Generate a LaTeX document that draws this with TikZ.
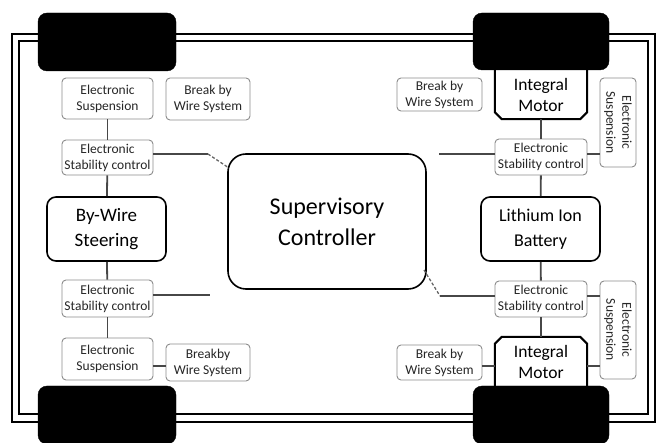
\documentclass[tikz,border=0pt]{standalone}
\usepackage{fontspec}
\setmainfont{Carlito}
\usetikzlibrary{calc}
\begin{document}
\begin{tikzpicture}[x=1pt,y=-1pt,
  small/.style={draw=black!45, rounded corners=4pt, line width=0.9pt, align=center,
    font=\fontsize{13.5}{16}\selectfont, inner sep=0pt, fill=white, text=black!85},
  big/.style={draw=black, line width=1.6pt, align=center, inner sep=0pt, fill=white},
  wheel/.style={fill=black, draw=black, rounded corners=9pt, inner sep=0pt},
  link/.style={draw=black!72, line width=1.8pt},
  dlink/.style={draw=black!60, line width=1.3pt, dash pattern=on 3pt off 2pt}]
\useasboundingbox (0,0) rectangle (659,443);
% frame
\draw[line width=2.6pt] (12,34) rectangle (655,422);
\draw[line width=1.8pt] (19,41) rectangle (648,414);
% supervisory
\node[big, rounded corners=18pt, minimum width=198pt, minimum height=135pt,
  font=\fontsize{24}{31}\selectfont] (sup) at (327,221.5) {Supervisory\\Controller};
% left column
\node[small, minimum width=91pt, minimum height=41pt] (suspTL) at (107.5,98.5) {Electronic\\Suspension};
\node[small, minimum width=84pt, minimum height=42pt] (brakeTL) at (208,99) {Break by\\Wire System};
\node[small, minimum width=91pt, minimum height=35pt] (escTL) at (107.5,157.5) {Electronic\\Stability control};
\node[big, rounded corners=9pt, minimum width=119pt, minimum height=64pt,
  font=\fontsize{19}{25}\selectfont] (steer) at (106.5,229) {By-Wire\\Steering};
\node[small, minimum width=91pt, minimum height=37pt] (escBL) at (107.5,298.5) {Electronic\\Stability control};
\node[small, minimum width=91pt, minimum height=42pt] (suspBL) at (107.5,359) {Electronic\\Suspension};
\node[small, minimum width=84pt, minimum height=37pt] (brakeBL) at (208,362.5) {Breakby\\Wire System};
% right column
\node[small, minimum width=85pt, minimum height=33pt] (brakeTR) at (439.5,94.5) {Break by\\Wire System};
\node[minimum width=92pt, minimum height=49pt, inner sep=0pt, align=center,
  font=\fontsize{17.5}{21}\selectfont] (motorTR) at (541,94.5) {Integral\\Motor};
\node[small, rotate=-90, minimum width=89pt, minimum height=36pt] (suspTR) at (618,122.5) {Electronic\\Suspension};
\node[small, minimum width=92pt, minimum height=36pt] (escTR) at (541,157) {Electronic\\Stability control};
\node[big, rounded corners=9pt, minimum width=119pt, minimum height=64pt,
  font=\fontsize{18}{25}\selectfont] (batt) at (540.5,229) {Lithium Ion\\Battery};
\node[small, minimum width=92pt, minimum height=36pt] (escBR) at (541,299) {Electronic\\Stability control};
\node[small, rotate=-90, minimum width=98pt, minimum height=36pt] (suspBR) at (618,330) {Electronic\\Suspension};
\node[minimum width=92pt, minimum height=49pt, inner sep=0pt, align=center,
  font=\fontsize{17.5}{21}\selectfont] (motorBR) at (541,361.5) {Integral\\Motor};
\node[small, minimum width=85pt, minimum height=35pt] (brakeBR) at (439.5,362.5) {Break by\\Wire System};
% motor outlines
\draw[line width=2pt] (motorTR.north west) -- ([yshift=7pt]motorTR.south west) -- ([xshift=7pt]motorTR.south west)
  -- ([xshift=-7pt]motorTR.south east) -- ([yshift=7pt]motorTR.south east) -- (motorTR.north east);
\draw[line width=2pt] (motorBR.south west) -- ([yshift=-7pt]motorBR.north west) -- ([xshift=7pt]motorBR.north west)
  -- ([xshift=-7pt]motorBR.north east) -- ([yshift=-7pt]motorBR.north east) -- (motorBR.south east);
% coordinates for free ends
\coordinate (jTL) at (208,154);
\coordinate (kTL) at (229,168);
\coordinate (jBL) at (210,295);
\coordinate (jTR) at (439,154);
\coordinate (jBR) at (440,296);
\coordinate (kBR) at (424,270);
% connectors
\draw[link] (suspTL) -- (escTL);
\draw[link] (escTL) -- (steer);
\draw[link] (steer) -- (escBL);
\draw[link] (escBL) -- (suspBL);
\draw[link] (escTL.east |- jTL) -- (jTL);
\draw[dlink] (jTL) -- (kTL);
\draw[link] (escBL.east |- jBL) -- (jBL);
\draw[link] (suspBL.east |- 0,366) -- (brakeBL.west |- 0,366);
\draw[link] (motorTR) -- (escTR);
\draw[link] (escTR) -- (batt);
\draw[link] (batt) -- (escBR);
\draw[link] (escBR) -- (motorBR);
\draw[link] (jTR) -- (escTR.west |- jTR);
\draw[link] (escTR.east |- jTR) -- (suspTR.south |- jTR);
\draw[dlink] (kBR) -- (jBR);
\draw[link] (jBR) -- (escBR.west |- jBR);
\draw[link] (escBR.east |- jBR) -- (suspBR.south |- jBR);
\draw[link] (brakeBR.east |- 0,366) -- (motorBR.west |- 0,366);
\draw[link] (motorBR.east |- 0,366) -- (suspBR.south |- 0,366);
% wheels
\node[wheel, minimum width=138pt, minimum height=58pt] (wTL) at (107,42) {};
\node[wheel, minimum width=136pt, minimum height=57pt] (wTR) at (541,41.5) {};
\node[wheel, minimum width=138pt, minimum height=58pt] (wBL) at (107,415) {};
\node[wheel, minimum width=136pt, minimum height=58pt] (wBR) at (541,415) {};
\end{tikzpicture}
\end{document}
